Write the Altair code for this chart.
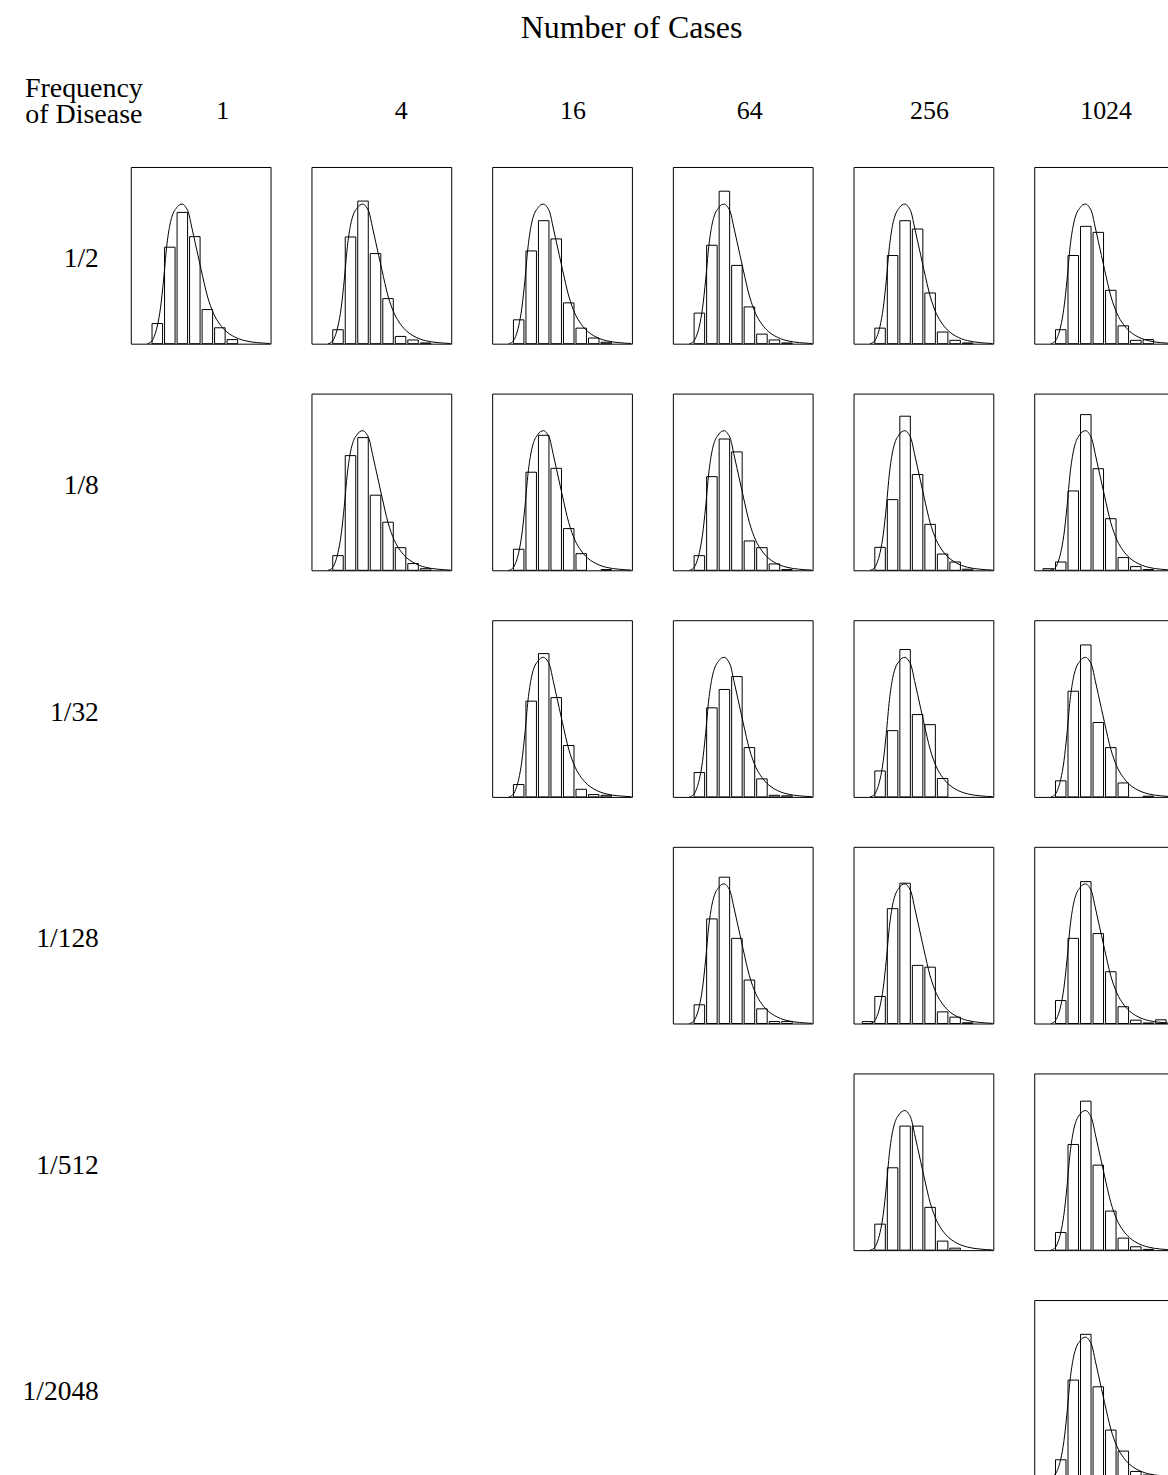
import altair as alt
import pandas as pd

# ---------------- text ----------------
title_text = "Number of Cases"
corner_label = "Frequency\nof Disease"
cases_labels = ["1", "4", "16", "64", "256", "1024"]
freq_labels = ["1/2", "1/8", "1/32", "1/128", "1/512", "1/2048"]

# ---------------- data ----------------
bins = [0, 1, 2, 3, 4, 5, 6, 7, 8, 9]

# bar heights (fraction of panel height) for bins 0..9, row = frequency, col = cases
r1_c1 = [0, 0.114, 0.546, 0.743, 0.606, 0.193, 0.090, 0.023, 0, 0]
r1_c2 = [0, 0.079, 0.604, 0.807, 0.510, 0.255, 0.041, 0.021, 0.004, 0]
r1_c3 = [0, 0.135, 0.525, 0.696, 0.593, 0.231, 0.088, 0.032, 0.008, 0]
r1_c4 = [0, 0.173, 0.557, 0.863, 0.443, 0.208, 0.054, 0.021, 0.004, 0]
r1_c5 = [0, 0.088, 0.499, 0.696, 0.649, 0.287, 0.066, 0.019, 0.004, 0]
r1_c6 = [0, 0.079, 0.499, 0.664, 0.630, 0.302, 0.101, 0.019, 0.023, 0]
r2_c2 = [0, 0.083, 0.649, 0.751, 0.425, 0.272, 0.128, 0.038, 0.009, 0]
r2_c3 = [0, 0.119, 0.555, 0.764, 0.577, 0.236, 0.094, 0, 0.004, 0]
r2_c4 = [0, 0.083, 0.530, 0.743, 0.670, 0.166, 0.128, 0.036, 0.004, 0]
r2_c5 = [0, 0.130, 0.400, 0.872, 0.542, 0.260, 0.092, 0.047, 0.006, 0]
r2_c6 = [0.009, 0.047, 0.449, 0.881, 0.575, 0.292, 0.072, 0.021, 0.004, 0]
r3_c3 = [0, 0.070, 0.542, 0.811, 0.562, 0.291, 0.043, 0.013, 0.009, 0]
r3_c4 = [0, 0.138, 0.504, 0.608, 0.681, 0.279, 0.102, 0.009, 0.006, 0]
r3_c5 = [0, 0.147, 0.375, 0.834, 0.466, 0.409, 0.104, 0, 0, 0]
r3_c6 = [0, 0.091, 0.598, 0.860, 0.421, 0.279, 0.079, 0, 0.004, 0]
r4_c4 = [0, 0.106, 0.592, 0.828, 0.482, 0.246, 0.083, 0.011, 0.011, 0]
r4_c5 = [0.011, 0.153, 0.650, 0.794, 0.329, 0.319, 0.066, 0.036, 0.004, 0]
r4_c6 = [0, 0.130, 0.482, 0.803, 0.509, 0.293, 0.095, 0.019, 0.003, 0.021]
r5_c5 = [0, 0.147, 0.466, 0.702, 0.702, 0.242, 0.051, 0.011, 0, 0]
r5_c6 = [0, 0.100, 0.598, 0.843, 0.481, 0.221, 0.068, 0.019, 0.004, 0]
r6_c6 = [0, 0.096, 0.547, 0.806, 0.509, 0.264, 0.145, 0.030, 0.010, 0]

panels = {
    (0, 0): r1_c1, (0, 1): r1_c2, (0, 2): r1_c3, (0, 3): r1_c4, (0, 4): r1_c5, (0, 5): r1_c6,
    (1, 1): r2_c2, (1, 2): r2_c3, (1, 3): r2_c4, (1, 4): r2_c5, (1, 5): r2_c6,
    (2, 2): r3_c3, (2, 3): r3_c4, (2, 4): r3_c5, (2, 5): r3_c6,
    (3, 3): r4_c4, (3, 4): r4_c5, (3, 5): r4_c6,
    (4, 4): r5_c5, (4, 5): r5_c6,
    (5, 5): r6_c6,
}

# fitted density curve (same in every panel)
curve_x = [0.2, 0.5, 0.75, 1.0, 1.25, 1.5, 1.75, 2.0, 2.25, 2.5, 2.75, 3.0, 3.25,
           3.5, 3.75, 4.0, 4.25, 4.5, 5.0, 5.5, 6.0, 6.5, 7.0, 7.5, 8.0, 8.5, 9.0,
           9.5, 10.0]
curve_y = [0.0, 0.01, 0.04, 0.10, 0.20, 0.36, 0.55, 0.67, 0.735, 0.765, 0.785,
           0.79, 0.775, 0.74, 0.66, 0.58, 0.50, 0.42, 0.27, 0.17, 0.11, 0.07,
           0.045, 0.028, 0.017, 0.010, 0.006, 0.003, 0.001]

# ---------------- layout ----------------
PW, PH = 140, 177
LABEL_W = 89
COL_SP = 41
ROW_SP = 46
HEADER_H = 114
FONT = "Liberation Serif"
COL_DX = [22, 20, 11, 7, 6, 2]

xs = alt.Scale(domain=[-1.12, 10.05], nice=False, zero=False)
ys = alt.Scale(domain=[0, 1], nice=False, zero=True)
curve_df = pd.DataFrame({"cx": curve_x, "cy": curve_y})
no_frame = alt.ViewBackground(stroke="transparent")


def make_panel(vals):
    df = pd.DataFrame({"bin": bins, "h": vals})
    df = df[df["h"] > 0]
    bars = alt.Chart(df).transform_calculate(
        x0="datum.bin - 0.42", x1="datum.bin + 0.42"
    ).mark_bar(fill="white", stroke="black", strokeWidth=1).encode(
        x=alt.X("x0:Q", scale=xs, axis=None),
        x2="x1:Q",
        y=alt.Y("h:Q", scale=ys, axis=None),
        y2=alt.datum(0),
    )
    curve = alt.Chart(curve_df).mark_line(
        color="black", strokeWidth=1, interpolate="monotone"
    ).encode(
        x=alt.X("cx:Q", scale=xs, axis=None),
        y=alt.Y("cy:Q", scale=ys, axis=None),
    )
    return alt.layer(bars, curve).properties(width=PW, height=PH)


def blank(w, h):
    return alt.Chart(pd.DataFrame({"a": [0]})).mark_point(opacity=0).properties(
        width=w, height=h, view=no_frame
    )


def text_chart(label, w, h, fs, **mk):
    return alt.Chart(pd.DataFrame({"t": [label]})).mark_text(
        font=FONT, fontSize=fs, color="black", baseline="middle", **mk
    ).encode(text="t:N").properties(width=w, height=h, view=no_frame)


# header row
header_items = [text_chart(corner_label, LABEL_W, HEADER_H, 28, align="center",
                           lineBreak="\n", lineHeight=26, dx=38.5, dy=-19)]
for lab, ddx in zip(cases_labels, COL_DX):
    header_items.append(text_chart(lab, PW, HEADER_H, 26, align="center", dx=ddx, dy=3))
header = alt.hconcat(*header_items, spacing=COL_SP, bounds="flush")

# panel rows
rows = []
for r in range(6):
    items = [text_chart(freq_labels[r], LABEL_W, PH, 27.5, align="right", dx=53.5, dy=4)]
    for c in range(6):
        if (r, c) in panels:
            items.append(make_panel(panels[(r, c)]))
        else:
            items.append(blank(PW, PH))
    rows.append(alt.hconcat(*items, spacing=COL_SP, bounds="flush"))

grid = alt.vconcat(*rows, spacing=ROW_SP)

chart = alt.vconcat(header, grid, spacing=0).properties(
    title=alt.TitleParams(
        title_text, font=FONT, fontSize=32, fontWeight="normal", color="black",
        anchor="middle", dx=43.5, offset=5.5,
    ),
    padding={"left": 0, "top": 11, "right": -8, "bottom": 0},
).configure_view(stroke="black", strokeWidth=1)

chart.save("out.html", embed_options={"renderer": "svg", "actions": False})
